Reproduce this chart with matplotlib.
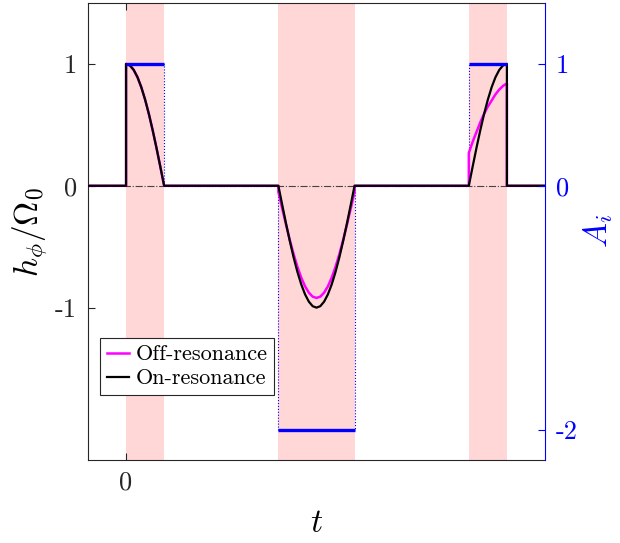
import matplotlib

matplotlib.use("Agg")
import matplotlib.pyplot as plt
import numpy as np

plt.rcParams["font.family"] = ["cmr10", "DejaVu Sans"]
plt.rcParams["mathtext.fontset"] = "cm"
plt.rcParams["axes.unicode_minus"] = False

# pulse windows (start, end) and amplitudes A_i
pulse_windows = [(0.0, 1.0), (4.0, 6.0), (9.0, 10.0)]
pulse_amps = [1, -2, 1]

# pulse 1, t in [0, 1]
t_p1 = [0.0, 0.1, 0.2, 0.3, 0.4, 0.5, 0.6, 0.7, 0.8, 0.9, 1.0]
on_p1 = [1.0, 0.988, 0.951, 0.891, 0.809, 0.707, 0.588, 0.454, 0.309, 0.156, 0.0]
off_p1 = [1.0, 0.988, 0.951, 0.891, 0.809, 0.707, 0.588, 0.454, 0.309, 0.156, 0.0]

# pulse 2, t in [4, 6]
t_p2 = [4.0, 4.1, 4.2, 4.3, 4.4, 4.5, 4.6, 4.7, 4.8, 4.9, 5.0,
        5.1, 5.2, 5.3, 5.4, 5.5, 5.6, 5.7, 5.8, 5.9, 6.0]
on_p2 = [0.0, -0.156, -0.309, -0.454, -0.588, -0.707, -0.809, -0.891, -0.951, -0.988, -1.0,
         -0.988, -0.951, -0.891, -0.809, -0.707, -0.588, -0.454, -0.309, -0.156, 0.0]
off_p2 = [-0.05, -0.186, -0.319, -0.445, -0.562, -0.665, -0.754, -0.825, -0.877, -0.910, -0.92,
          -0.910, -0.877, -0.825, -0.754, -0.665, -0.562, -0.445, -0.319, -0.186, -0.05]

# pulse 3, t in [9, 10]
t_p3 = [9.0, 9.1, 9.2, 9.3, 9.4, 9.5, 9.6, 9.7, 9.8, 9.9, 10.0]
on_p3 = [0.0, 0.156, 0.309, 0.454, 0.588, 0.707, 0.809, 0.891, 0.951, 0.988, 1.0]
off_p3 = [0.27, 0.36, 0.44, 0.52, 0.59, 0.65, 0.70, 0.75, 0.79, 0.82, 0.84]

t_lo, t_hi = -1.0, 11.0
y_lo, y_hi = -2.25, 1.5


def full_trace(p1, p2, p3):
    # zero level between pulses, with both edges of every pulse kept
    t = np.concatenate([[t_lo, 0.0], t_p1, [4.0], t_p2, [6.0, 9.0], t_p3, [10.0, t_hi]])
    h = np.concatenate([[0.0, 0.0], p1, [0.0], p2, [0.0, 0.0], p3, [0.0, 0.0]])
    return t, h


fig = plt.figure(figsize=(6.2, 5.43), dpi=100)
ax = fig.add_axes([0.1419, 0.1529, 0.7371, 0.8416])

for a, b in pulse_windows:
    ax.axvspan(a, b, color="#ffd7d7", lw=0, zorder=0)

# A_i steps as a dotted staircase (same scale as the right axis)
t_amp = []
a_amp = []
for (a, b), amp in zip(pulse_windows, pulse_amps):
    t_amp += [a, a, b, b]
    a_amp += [0, amp, amp, 0]
ax.plot(t_amp, a_amp, color="#0000ff", lw=0.8, ls=":", zorder=1)

ax.axhline(0, color="#444444", lw=0.8, ls="-.", zorder=1)

t_off, h_off = full_trace(off_p1, off_p2, off_p3)
t_on, h_on = full_trace(on_p1, on_p2, on_p3)
ax.plot(t_off, h_off, color="#ff00ff", lw=1.8, label="Off-resonance", zorder=3)
ax.plot(t_on, h_on, color="black", lw=1.6, label="On-resonance", zorder=4)

for (a, b), amp in zip(pulse_windows, pulse_amps):
    ax.plot([a, b], [amp, amp], color="#0000ff", lw=2.4,
            solid_capstyle="butt", zorder=5)

ax.set_xlim(t_lo, t_hi)
ax.set_ylim(y_lo, y_hi)
ax.set_xticks([0])
ax.set_xticklabels(["0"])
ax.set_yticks([-1, 0, 1])
ax.set_yticklabels(["-1", "0", "1"])
ax.tick_params(direction="in", length=5, width=0.8, labelsize=19, colors="#262626",
               top=True, pad=8)
for s in ["left", "top", "bottom"]:
    ax.spines[s].set_color("#262626")
    ax.spines[s].set_linewidth(0.8)
ax.spines["right"].set_visible(False)
ax.set_xlabel("$t$", fontsize=24, labelpad=10)
ax.set_ylabel(r"$h_\phi/\Omega_0$", fontsize=24, labelpad=4)

leg = ax.legend(loc="lower left", bbox_to_anchor=(0.026, 0.142), borderaxespad=0,
                fontsize=16, handlelength=1.0, handletextpad=0.3, labelspacing=0.2,
                borderpad=0.3, fancybox=False, framealpha=1)
leg.get_frame().set_edgecolor("#262626")
leg.get_frame().set_linewidth(0.8)

# right axis for the amplitudes
ax2 = ax.twinx()
ax2.set_ylim(y_lo, y_hi)
ax2.set_yticks([-2, 0, 1])
ax2.set_yticklabels(["-2", "0", "1"])
ax2.tick_params(direction="in", length=5, width=0.8, labelsize=19, colors="#0000ff", pad=8)
for s in ["left", "top", "bottom"]:
    ax2.spines[s].set_visible(False)
ax2.spines["right"].set_color("#0000ff")
ax2.spines["right"].set_linewidth(0.8)
ax2.set_ylabel("$A_i$", fontsize=24, color="#0000ff", labelpad=2)

fig.savefig("out.png", dpi=100)
